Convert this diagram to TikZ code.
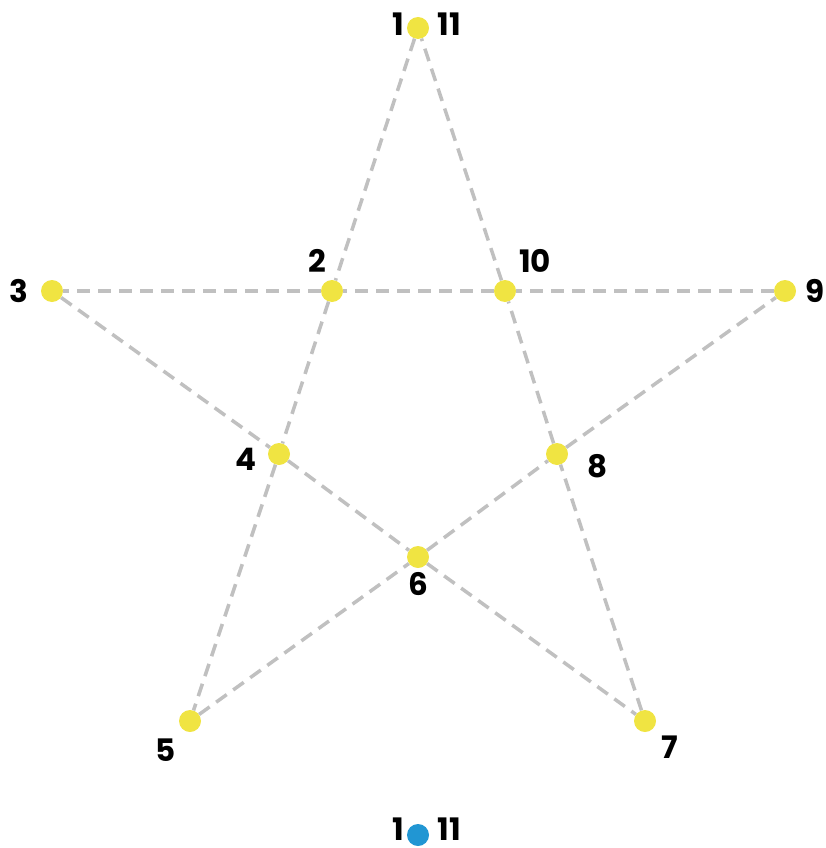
\documentclass[tikz,border=0pt]{standalone}
\usepackage{fontspec}
\setmainfont{Poppins}
\usetikzlibrary{positioning}
\definecolor{staryellow}{RGB}{240,228,66}
\definecolor{starblue}{RGB}{33,150,211}
\definecolor{stargray}{RGB}{192,192,192}
\tikzset{
  every picture/.append style={line cap=round,line join=round},
  star dot/.style={circle,fill=staryellow,inner sep=0pt,minimum size=22pt},
  start dot/.style={circle,fill=starblue,inner sep=0pt,minimum size=22pt},
  star edge/.style={stargray,line width=3.5pt,line cap=butt,dash pattern=on 13pt off 8pt},
  star label/.style={font=\fontsize{31}{32}\selectfont\bfseries,inner sep=0pt}
}
\begin{document}
\begin{tikzpicture}[x=1pt,y=-1pt]
    \useasboundingbox (0,0) rectangle (825,848);
    % vertices of the star
    \node[star dot] (p1) at (418,28) {};
    \node[star dot] (p2) at (332,291) {};
    \node[star dot] (p3) at (52,291) {};
    \node[star dot] (p4) at (279,454) {};
    \node[star dot] (p5) at (190,721) {};
    \node[star dot] (p6) at (418,557) {};
    \node[star dot] (p7) at (645,721) {};
    \node[star dot] (p8) at (557,454) {};
    \node[star dot] (p9) at (785,291) {};
    \node[star dot] (p10) at (505,291) {};
    \node[start dot] (q1) at (418,835) {};
    % dashed edges
    \foreach \a/\b in {1/2,2/3,3/4,4/5,5/6,6/7,7/8,8/9,9/10,10/1,2/4,4/6,6/8,8/10,10/2}
      \draw[star edge] (p\a) -- (p\b);
    % labels
    \node[star label] (l1a) at (398,24) {1};
    \node[star label] (l1b) at (449,24) {11};
    \node[star label] (l2) at (317,261) {2};
    \node[star label] (l3) at (19,291) {3};
    \node[star label] (l4) at (246,459) {4};
    \node[star label] (l5) at (166,750) {5};
    \node[star label] (l6) at (418,584) {6};
    \node[star label] (l7) at (670,747) {7};
    \node[star label] (l8) at (598,466) {8};
    \node[star label] (l9) at (815,291) {9};
    \node[star label] (l10) at (535,261) {10};
    \node[star label] (m1a) at (398,829) {1};
    \node[star label] (m1b) at (449,829) {11};
  \end{tikzpicture}
\end{document}
